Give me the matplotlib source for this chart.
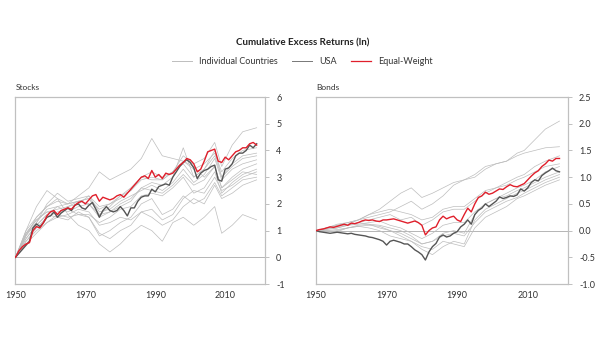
import matplotlib
matplotlib.use("Agg")
import matplotlib.pyplot as plt
import numpy as np

plt.rcParams['font.family'] = ['Lato', 'DejaVu Sans']

# ---------------- data ----------------
years_yearly = list(range(1950, 2020))

stocks_equal = [0, 0.25, 0.4, 0.5, 0.55, 1.0, 1.15, 1.1, 1.3, 1.55,
                1.7, 1.75, 1.6, 1.75, 1.8, 1.85, 1.8, 1.95, 2.05, 2.1,
                2.0, 2.15, 2.3, 2.35, 2.1, 2.25, 2.2, 2.15, 2.2, 2.3,
                2.35, 2.25, 2.4, 2.55, 2.7, 2.85, 3.0, 3.05, 2.95, 3.25,
                3.0, 3.1, 2.95, 3.15, 3.1, 3.15, 3.3, 3.45, 3.55, 3.7,
                3.65, 3.5, 3.2, 3.3, 3.6, 3.95, 4.0, 4.05, 3.6, 3.55,
                3.75, 3.65, 3.8, 3.95, 4.0, 4.1, 4.1, 4.25, 4.3, 4.2]

stocks_usa = [0, 0.15, 0.3, 0.45, 0.6, 1.1, 1.25, 1.15, 1.3, 1.5,
              1.55, 1.7, 1.5, 1.65, 1.75, 1.85, 1.75, 1.95, 2.0, 1.85,
              1.8, 1.95, 2.05, 1.8, 1.5, 1.75, 1.9, 1.75, 1.7, 1.75,
              1.9, 1.75, 1.55, 1.85, 1.85, 2.1, 2.25, 2.3, 2.3, 2.55,
              2.45, 2.65, 2.7, 2.75, 2.7, 3.0, 3.2, 3.4, 3.55, 3.65,
              3.55, 3.35, 2.95, 3.15, 3.25, 3.3, 3.4, 3.45, 2.9, 2.85,
              3.3, 3.35, 3.5, 3.8, 3.9, 3.9, 4.0, 4.2, 4.1, 4.25]

bonds_equal = [0, 0.02, 0.03, 0.05, 0.07, 0.06, 0.08, 0.1, 0.12, 0.1,
               0.14, 0.13, 0.15, 0.18, 0.2, 0.19, 0.2, 0.18, 0.17, 0.2,
               0.2, 0.21, 0.22, 0.2, 0.18, 0.16, 0.14, 0.16, 0.18, 0.15,
               0.1, -0.08, 0.0, 0.05, 0.07, 0.2, 0.27, 0.22, 0.25, 0.27,
               0.2, 0.17, 0.3, 0.42, 0.35, 0.5, 0.62, 0.65, 0.72, 0.68,
               0.7, 0.74, 0.78, 0.77, 0.82, 0.86, 0.83, 0.82, 0.85, 0.88,
               0.95, 1.02, 1.08, 1.12, 1.2, 1.25, 1.32, 1.3, 1.35, 1.35]

bonds_usa = [0, -0.02, -0.03, -0.04, -0.05, -0.04, -0.03, -0.04, -0.05, -0.06,
             -0.05, -0.07, -0.08, -0.09, -0.1, -0.12, -0.13, -0.15, -0.17, -0.2,
             -0.27, -0.2, -0.18, -0.2, -0.22, -0.25, -0.25, -0.3, -0.36, -0.4,
             -0.45, -0.55, -0.4, -0.3, -0.24, -0.12, -0.08, -0.12, -0.1, -0.05,
             -0.02, 0.07, 0.12, 0.2, 0.12, 0.3, 0.38, 0.42, 0.5, 0.45,
             0.5, 0.55, 0.63, 0.6, 0.62, 0.65, 0.64, 0.67, 0.78, 0.74,
             0.8, 0.9, 0.95, 0.93, 1.03, 1.08, 1.12, 1.17, 1.12, 1.1]

years_grid = [1950, 1953, 1956, 1959, 1962, 1965, 1968, 1971, 1974, 1977, 1980, 1983,
              1986, 1989, 1992, 1995, 1998, 2001, 2004, 2007, 2009, 2012, 2015, 2019]

stocks_countries = [
    [0, 0.9, 1.4, 1.7, 1.6, 1.9, 2.1, 2.2, 1.6, 1.9, 2.3, 2.5, 3.0, 3.2, 3.0, 3.2, 3.8, 3.5, 3.7, 4.3, 3.4, 4.2, 4.7, 4.85],
    [0, 1.0, 1.5, 1.9, 2.1, 2.0, 2.3, 2.6, 3.2, 2.9, 3.1, 3.3, 3.7, 4.45, 3.8, 3.7, 3.6, 3.4, 3.0, 3.4, 2.6, 2.9, 3.2, 3.1],
    [0, 0.8, 1.5, 1.9, 2.2, 2.0, 2.1, 2.0, 1.6, 1.7, 1.9, 2.1, 2.6, 2.8, 2.7, 3.0, 4.1, 3.0, 3.3, 4.0, 3.0, 3.5, 3.8, 3.9],
    [0, 1.0, 1.9, 2.5, 2.2, 1.6, 1.2, 1.0, 0.5, 0.2, 0.5, 0.9, 1.2, 1.0, 0.6, 1.3, 1.5, 1.2, 1.5, 1.9, 0.9, 1.2, 1.6, 1.4],
    [0, 0.7, 1.2, 1.6, 1.5, 1.4, 1.7, 1.5, 0.8, 1.0, 1.3, 1.5, 2.0, 2.2, 1.6, 1.8, 2.3, 2.0, 2.2, 2.8, 2.3, 2.6, 2.9, 3.0],
    [0, 0.6, 1.0, 1.3, 1.5, 1.6, 1.8, 1.7, 1.2, 1.3, 1.5, 1.4, 1.7, 1.5, 1.2, 1.4, 1.9, 2.2, 2.0, 2.7, 2.2, 2.4, 2.7, 2.9],
    [0, 0.8, 1.3, 1.8, 1.9, 1.7, 1.9, 2.0, 1.5, 1.7, 2.0, 2.2, 2.6, 2.5, 2.4, 2.7, 3.1, 2.7, 2.9, 3.4, 2.6, 3.0, 3.3, 3.5],
    [0, 0.9, 1.4, 1.7, 1.8, 1.9, 2.0, 2.3, 1.9, 2.0, 2.3, 2.6, 3.0, 2.9, 2.9, 3.2, 3.5, 3.0, 3.3, 3.8, 3.0, 3.4, 3.7, 3.8],
    [0, 0.5, 0.9, 1.3, 1.6, 1.5, 1.6, 1.6, 1.3, 1.5, 1.8, 1.9, 2.3, 2.4, 2.3, 2.6, 3.0, 2.4, 2.6, 3.2, 2.4, 2.8, 3.1, 3.3],
    [0, 0.7, 1.2, 1.6, 1.9, 2.0, 2.1, 2.2, 1.8, 2.0, 2.2, 2.5, 2.9, 3.0, 2.9, 3.2, 3.6, 3.3, 3.5, 3.9, 3.2, 3.7, 4.0, 4.1],
    [0, 0.6, 1.1, 1.5, 1.7, 1.8, 1.6, 1.5, 0.9, 0.7, 1.0, 1.2, 1.7, 1.8, 1.4, 1.6, 2.2, 2.5, 2.4, 3.0, 2.5, 2.7, 3.0, 3.2],
    [0, 0.85, 1.3, 2.0, 2.4, 2.1, 2.2, 2.3, 1.7, 1.8, 2.1, 2.3, 2.5, 2.7, 2.5, 2.8, 3.3, 2.8, 3.1, 3.7, 2.9, 3.3, 3.5, 3.65],
]

bonds_countries = [
    [0, 0.05, 0.12, 0.15, 0.2, 0.3, 0.4, 0.55, 0.7, 0.8, 0.62, 0.7, 0.8, 0.9, 0.95, 1.05, 1.2, 1.25, 1.3, 1.45, 1.5, 1.7, 1.9, 2.05],
    [0, 0.03, 0.1, 0.12, 0.2, 0.25, 0.3, 0.35, 0.45, 0.55, 0.4, 0.5, 0.65, 0.85, 0.95, 1.0, 1.15, 1.25, 1.3, 1.4, 1.45, 1.5, 1.55, 1.57],
    [0, 0.05, 0.08, 0.1, 0.15, 0.2, 0.25, 0.3, 0.2, 0.25, 0.1, 0.2, 0.35, 0.4, 0.4, 0.55, 0.7, 0.8, 0.9, 1.0, 1.05, 1.2, 1.3, 1.4],
    [0, 0.0, -0.02, 0.05, 0.1, 0.12, 0.1, 0.05, 0.0, -0.1, -0.25, -0.2, -0.05, 0.0, -0.05, 0.3, 0.5, 0.6, 0.7, 0.8, 0.85, 0.95, 1.1, 1.2],
    [0, -0.02, 0.0, 0.05, 0.08, 0.05, 0.0, -0.1, -0.15, -0.2, -0.35, -0.45, -0.3, -0.2, -0.25, 0.2, 0.4, 0.5, 0.6, 0.7, 0.75, 0.85, 0.95, 1.05],
    [0, 0.03, 0.05, 0.1, 0.15, 0.12, 0.05, 0.0, -0.1, -0.2, -0.3, -0.35, -0.2, -0.25, -0.3, 0.05, 0.25, 0.35, 0.45, 0.6, 0.65, 0.75, 0.85, 0.95],
    [0, 0.0, 0.02, 0.05, 0.08, 0.1, 0.08, 0.0, -0.05, -0.15, -0.25, -0.2, -0.1, -0.05, -0.1, 0.15, 0.35, 0.45, 0.55, 0.62, 0.7, 0.8, 0.9, 1.0],
    [0, 0.02, 0.05, 0.1, 0.12, 0.15, 0.18, 0.1, 0.05, -0.05, -0.15, -0.05, 0.1, 0.15, 0.15, 0.35, 0.5, 0.6, 0.65, 0.75, 0.8, 0.9, 1.0, 1.1],
    [0, 0.05, 0.1, 0.15, 0.2, 0.3, 0.35, 0.4, 0.35, 0.3, 0.2, 0.25, 0.4, 0.45, 0.45, 0.6, 0.75, 0.8, 0.85, 0.95, 1.0, 1.1, 1.2, 1.25],
]

x_ticks = [1950, 1970, 1990, 2010]
stocks_yticks = [-1, 0, 1, 2, 3, 4, 5, 6]
bonds_yticks = [-1.0, -0.5, 0.0, 0.5, 1.0, 1.5, 2.0, 2.5]

title = "Cumulative Excess Returns (ln)"
legend_labels = ["Individual Countries", "USA", "Equal-Weight"]

# ---------------- styles ----------------
C_GRAY = "#bdbdbd"
C_USA = "#555555"
C_RED = "#e01f2b"
C_SPINE = "#c0c0c0"
C_TEXT = "#333333"

fig = plt.figure(figsize=(6.05, 3.41), dpi=100)
ax1 = fig.add_axes([0.0256, 0.167, 0.4125, 0.5485])
ax2 = fig.add_axes([0.5223, 0.167, 0.4165, 0.5485])

def style(ax, yticks, fmt, name):
    ax.set_xlim(1950, 2021.4)
    ax.set_ylim(yticks[0], yticks[-1])
    ax.axhline(0, color="#b5b5b5", lw=0.7, zorder=1)
    for s in ax.spines.values():
        s.set_color(C_SPINE)
        s.set_linewidth(0.9)
    ax.yaxis.tick_right()
    ax.set_yticks(yticks)
    ax.set_yticklabels([fmt(v) for v in yticks])
    ax.tick_params(axis='y', direction='out', length=3, width=0.7, color=C_SPINE,
                   labelsize=6.5, labelcolor=C_TEXT, pad=5)
    ax.set_xticks(x_ticks)
    ax.tick_params(axis='x', length=0, labelsize=6.5, labelcolor=C_TEXT, pad=5)
    ax.text(0.0, 1.03, name, transform=ax.transAxes, fontsize=6, color=C_TEXT,
            ha='left', va='bottom')

style(ax1, stocks_yticks, lambda v: f"{v:d}", "Stocks")
style(ax2, bonds_yticks, lambda v: f"{v:.1f}", "Bonds")

for ser in stocks_countries:
    ax1.plot(years_grid, ser, color=C_GRAY, lw=0.5, zorder=2)
ax1.plot(years_yearly, stocks_usa, color=C_USA, lw=1.0, zorder=3)
ax1.plot(years_yearly, stocks_equal, color=C_RED, lw=1.0, zorder=4)

for ser in bonds_countries:
    ax2.plot(years_grid, ser, color=C_GRAY, lw=0.5, zorder=2)
ax2.plot(years_yearly, bonds_usa, color=C_USA, lw=1.0, zorder=3)
ax2.plot(years_yearly, bonds_equal, color=C_RED, lw=1.0, zorder=4)

fig.text(0.5, 0.873, title, ha='center', va='center', fontsize=7, fontweight='bold',
         color="#222222")

from matplotlib.lines import Line2D
handles = [Line2D([], [], color=C_GRAY, lw=0.7),
           Line2D([], [], color="#777777", lw=0.7),
           Line2D([], [], color=C_RED, lw=0.9)]
fig.legend(handles, legend_labels, loc='center', bbox_to_anchor=(0.5, 0.82), ncol=3,
           frameon=False, fontsize=6.5, handlelength=2.2, columnspacing=1.6,
           handletextpad=0.8, labelcolor=C_TEXT)

fig.savefig("out.png", dpi=100, facecolor="white")
